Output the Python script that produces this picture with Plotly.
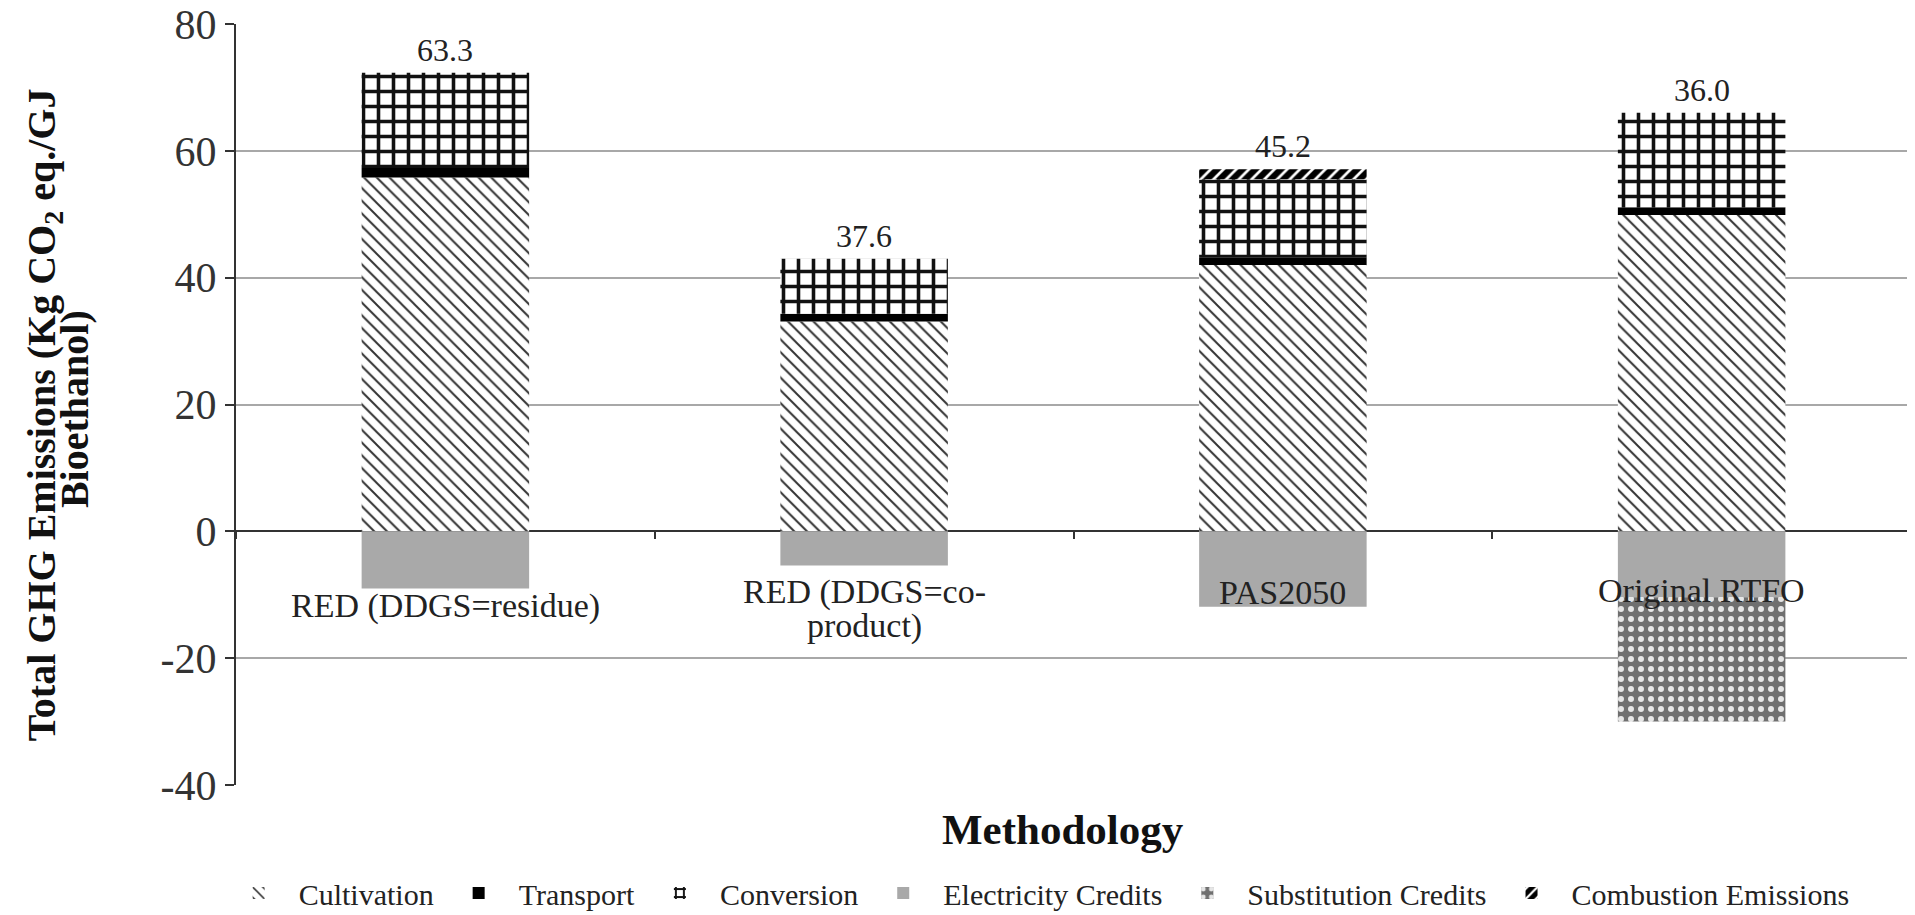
import plotly.graph_objects as go

categories = ["RED (DDGS=residue)", "RED (DDGS=co-\nproduct)", "PAS2050", "Original RTFO"]
cultivation = [55.8, 33.1, 42.0, 49.9]
transport = [1.5, 1.2, 1.2, 1.2]
conversion = [15.0, 8.7, 12.3, 14.9]
combustion = [0.0, 0.0, 1.6, 0.0]
electricity_credits = [-9.0, -5.4, -11.9, -10.4]
substitution_credits = [0.0, 0.0, 0.0, -19.6]
y_ticks = [-40, -20, 0, 20, 40, 60, 80]
y_tick_text = ["-40", "-20", "0", "20", "40", "60", "80"]

FONT = "Times New Roman"
x = list(range(len(categories)))

fig = go.Figure()

def add(name, vals, rank, color, shape="", bg=None, fg=None, size=8, solidity=0.3):
    pattern = dict(shape=shape)
    if shape:
        pattern.update(bgcolor=bg, fgcolor=fg, size=size, solidity=solidity, fillmode="replace")
    fig.add_trace(go.Bar(
        x=x, y=vals, name=name, legendrank=rank,
        marker=dict(color=color, pattern=pattern, line=dict(width=0)),
        width=0.4,
    ))

add("Cultivation", cultivation, 1, "white", "\\", "white", "#333333", 9, 0.22)
add("Transport", transport, 2, "#000000")
add("Conversion", conversion, 3, "white", "+", "white", "#111111", 15, 0.42)
add("Combustion Emissions", combustion, 6, "#000000", "/", "#000000", "#ffffff", 9, 0.3)
add("Electricity Credits", electricity_credits, 4, "#a9a9a9")
add("Substitution Credits", substitution_credits, 5, "#6f6f6f", ".", "#6f6f6f", "#e6e6e6", 10, 0.28)

annotations = []
# totals
for i in x:
    pos = cultivation[i] + transport[i] + conversion[i] + combustion[i]
    total = pos + electricity_credits[i] + substitution_credits[i]
    annotations.append(dict(x=i, y=pos, text=f"{total:.1f}", showarrow=False,
                            yanchor="bottom", yshift=3,
                            font=dict(family=FONT, size=32, color="#222222")))
# category labels (Excel axis crossing at zero)
label_offsets = [75, 61, 61, 59]
for i, lab in enumerate(categories):
    for j, line in enumerate(lab.split("\n")):
        annotations.append(dict(x=i, y=0, text=line, showarrow=False,
                                xanchor="center", yanchor="middle",
                                yshift=-(label_offsets[i] + 34 * j),
                                font=dict(family=FONT, size=34, color="#222222")))
# axis titles
annotations.append(dict(xref="paper", yref="paper", x=0.494, y=-0.059, text="<b>Methodology</b>",
                        xanchor="center", yanchor="middle",
                        showarrow=False, font=dict(family=FONT, size=43, color="#111111")))
annotations.append(dict(xref="paper", yref="paper", x=(44 - 236) / 1675, y=0.486,
                        xanchor="center", yanchor="middle",
                        text="<b>Total GHG Emissions (Kg CO<sub>2</sub> eq./GJ</b>", textangle=-90,
                        showarrow=False, font=dict(family=FONT, size=40, color="#111111")))
annotations.append(dict(xref="paper", yref="paper", x=(74 - 236) / 1675, y=0.494,
                        xanchor="center", yanchor="middle",
                        text="<b>Bioethanol)</b>", textangle=-90,
                        showarrow=False, font=dict(family=FONT, size=40, color="#111111")))

# page body adds an 8px offset; figure sized to fit the 1915x915 window
fig.update_layout(
    barmode="relative",
    width=1907, height=907,
    margin=dict(l=228, r=4, t=16, b=130, autoexpand=False),
    paper_bgcolor="white", plot_bgcolor="white",
    font=dict(family=FONT, color="#222222"),
    annotations=annotations,
    legend=dict(orientation="h", x=0.478, xanchor="center", y=-0.142, yanchor="middle",
                traceorder="normal", font=dict(family=FONT, size=30, color="#222222"),
                itemwidth=70),
    xaxis=dict(range=[-0.5, len(categories) - 0.5], showticklabels=False, showgrid=False,
               tickmode="array", tickvals=[i - 0.5 for i in range(len(categories) + 1)],
               ticks="outside", ticklen=7, tickcolor="#333333", tickwidth=2,
               anchor="free", position=(0 - y_ticks[0]) / (y_ticks[-1] - y_ticks[0]),
               showline=False, zeroline=False),
    yaxis=dict(range=[y_ticks[0], y_ticks[-1]], tickvals=y_ticks, ticktext=y_tick_text,
               tickfont=dict(family=FONT, size=42, color="#333333"),
               ticklabeloverflow="allow",
               showgrid=True, gridcolor="#a8a8a8", gridwidth=2,
               zeroline=True, zerolinecolor="#333333", zerolinewidth=2,
               showline=True, linecolor="#333333", linewidth=2,
               ticks="outside", ticklen=9, tickcolor="#333333", tickwidth=2),
)

fig.write_html("out.html")
